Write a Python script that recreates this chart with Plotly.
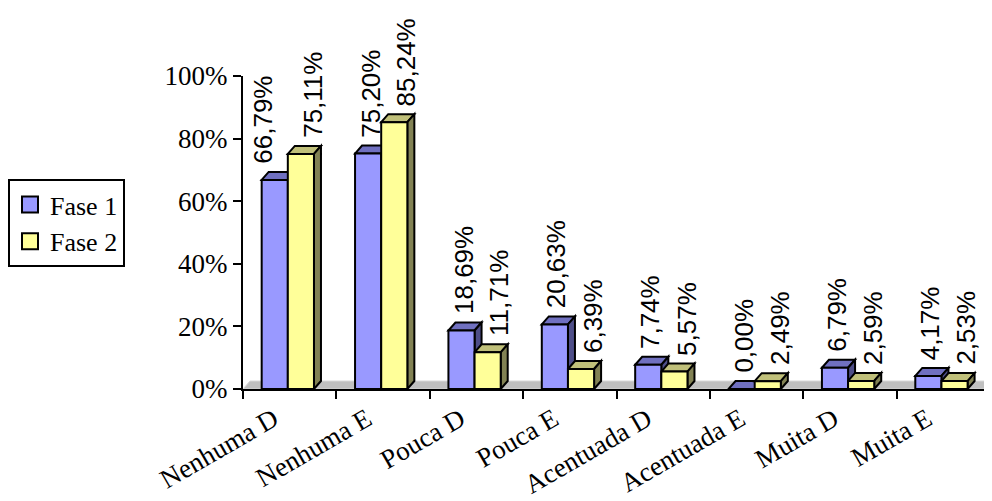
import plotly.graph_objects as go

categories = ["Nenhuma D", "Nenhuma E", "Pouca D", "Pouca E",
              "Acentuada D", "Acentuada E", "Muita D", "Muita E"]
fase1 = [66.79, 75.20, 18.69, 20.63, 7.74, 0.00, 6.79, 4.17]
fase2 = [75.11, 85.24, 11.71, 6.39, 5.57, 2.49, 2.59, 2.53]
series_names = ["Fase 1", "Fase 2"]
y_ticks = [0, 20, 40, 60, 80, 100]

# styles (page body has an 8px default margin, so figure is 984x493)
W, H = 984, 493
front = ["#9999FF", "#FFFF99"]
top_c = ["#7070C0", "#C0C07A"]
side_c = ["#4E4E88", "#828254"]
BW = 0.28
offsets = [-0.30, -0.02]
ML, MR, MT, MB = 235, 2, 68, 112
plot_w = float(W - ML - MR)
plot_h = float(H - MT - MB)
DX = 7 / (plot_w / len(categories))
DY = 8 / plot_h * 100
SERIF = "Liberation Serif, Times New Roman, serif"
SANS = "Liberation Sans, Arial, sans-serif"

fig = go.Figure()
shapes = []
n = len(categories)
shapes.append(dict(type="path", xref="x", yref="y", layer="below",
                   path=f"M -0.5,0 L {-0.5+DX},{DY} L {n-0.5+DX},{DY} L {n-0.5},0 Z",
                   fillcolor="#C0C0C0", line=dict(color="#D8D8D8", width=1)))

annotations = []
for s, vals in enumerate([fase1, fase2]):
    fig.add_trace(go.Bar(x=categories, y=vals, width=BW, offset=offsets[s],
                         marker=dict(color=front[s], line=dict(color="black", width=2)),
                         showlegend=False, cliponaxis=False, hoverinfo="skip"))
    for i, v in enumerate(vals):
        xl = i + offsets[s]
        xr = xl + BW
        shapes.append(dict(type="path", xref="x", yref="y", layer="below",
                           path=f"M {xl},{v} L {xl+DX},{v+DY} L {xr+DX},{v+DY} L {xr},{v} Z",
                           fillcolor=top_c[s], line=dict(color="black", width=2)))
        if v > 0:
            shapes.append(dict(type="path", xref="x", yref="y", layer="below",
                               path=f"M {xr},0 L {xr},{v} L {xr+DX},{v+DY} L {xr+DX},{DY} Z",
                               fillcolor=side_c[s], line=dict(color="black", width=2)))
        xs = 2 if s == 0 else 12
        if s == 0 and i == 0:
            xs = -12
        annotations.append(dict(x=i + offsets[s] + BW / 2, y=v, xref="x", yref="y",
                                text=f"{v:.2f}%".replace(".", ","), textangle=-90,
                                showarrow=False, xanchor="center", yanchor="bottom",
                                xshift=xs, yshift=14,
                                font=dict(family=SANS, size=26, color="black")))

for s in range(2):
    fig.add_trace(go.Scatter(x=[None], y=[None], mode="markers", name=series_names[s],
                             marker=dict(symbol="square", size=16, color=front[s],
                                         line=dict(color="black", width=2))))

fig.update_layout(
    width=W, height=H,
    margin=dict(l=ML, r=MR, t=MT, b=MB, autoexpand=False),
    paper_bgcolor="white", plot_bgcolor="white",
    barmode="overlay",
    shapes=shapes, annotations=annotations,
    legend=dict(xref="container", yref="container", x=0, y=1 - 171 / H,
                xanchor="left", yanchor="top",
                bordercolor="black", borderwidth=2, bgcolor="white",
                font=dict(family=SERIF, size=26, color="black")),
    xaxis=dict(type="category", categoryorder="array", categoryarray=categories,
               range=[-0.5, n - 0.5], showline=True, linecolor="black", linewidth=2,
               ticks="outside", ticklen=8, tickwidth=2, tickcolor="black", tickson="boundaries",
               tickangle=-30, tickfont=dict(family=SERIF, size=27, color="black"),
               ticklabelstandoff=2, ticklabelshift=-16,
               showgrid=False, zeroline=False, automargin=False),
    yaxis=dict(range=[0, 100], tickvals=y_ticks, ticktext=[f"{t}%" for t in y_ticks],
               showline=True, linecolor="black", linewidth=2,
               ticks="outside", ticklen=8, tickwidth=2, tickcolor="black",
               tickfont=dict(family=SERIF, size=27, color="black"),
               showgrid=False, zeroline=False, automargin=False),
)
fig.write_html("out.html")
